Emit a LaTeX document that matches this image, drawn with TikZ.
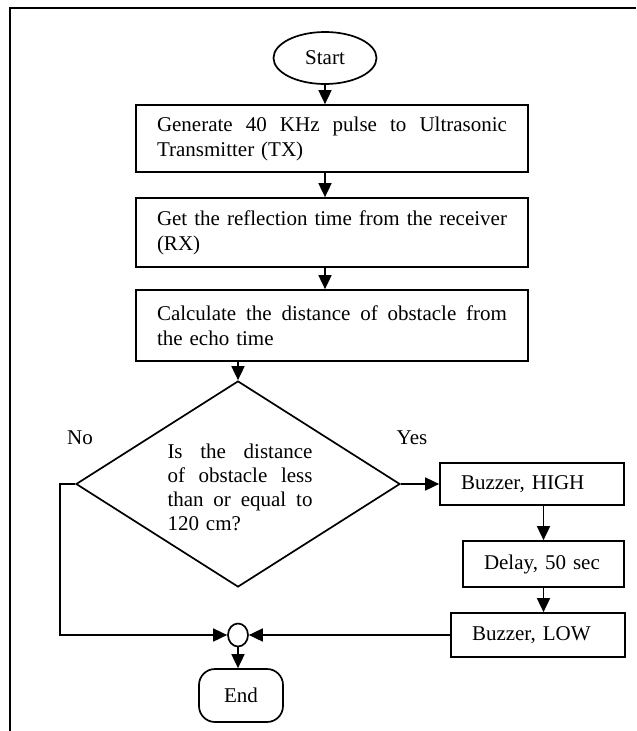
\documentclass[tikz,border=0pt]{standalone}
\usepackage{fontspec}
\setmainfont{Liberation Serif}
\usetikzlibrary{arrows.meta,shapes.geometric}
\begin{document}
\begin{tikzpicture}[x=1pt,y=-1pt,
  every node/.style={font=\fontsize{21}{25}\selectfont},
  box/.style={draw, line width=1.7pt, inner xsep=21pt, inner ysep=0pt, align=left},
  arr/.style={line width=1.7pt, -{Triangle[length=14pt,width=13pt]}},
  ln/.style={line width=1.7pt}]
\useasboundingbox (0,0) rectangle (637,731);
\draw[ln] (636,8) -- (10,8) -- (10,731);

\node[draw, ellipse, line width=1.7pt, minimum width=103pt, minimum height=52pt, inner sep=0pt] (start) at (325,58) {Start};
\node[box, text width=350pt, minimum height=67pt] (gen) at (332,138.5)
  {Generate\hfill 40\hfill KHz\hfill pulse\hfill to\hfill Ultrasonic\\Transmitter (TX)};
\node[box, text width=350pt, minimum height=69pt] (rx) at (332,232.5)
  {Get\hfill the\hfill reflection\hfill time\hfill from\hfill the\hfill receiver\\(RX)};
\node[box, text width=350pt, minimum height=71pt] (calc) at (332,325.5)
  {Calculate\hfill the\hfill distance\hfill of\hfill obstacle\hfill from\\the echo time};
\node[draw, diamond, line width=1.7pt, minimum width=324pt, minimum height=206pt, inner sep=0pt] (dia) at (238,484) {};
\node[text width=145pt, align=left, inner sep=0pt, font=\fontsize{21}{24}\selectfont] (q) at (240,487)
  {Is\hfill the\hfill distance\\of\hfill obstacle\hfill less\\than\hfill or\hfill equal\hfill to\\120 cm?};
\node (no) at (80,438) {No};
\node (yes) at (412,438) {Yes};
\node[box, text width=142pt, minimum height=42pt] (high) at (532,484) {Buzzer, HIGH};
\node[box, text width=119pt, minimum height=46pt] (delay) at (543.5,564) {Delay, 50 sec};
\node[box, text width=132pt, minimum height=44pt] (low) at (538,635) {Buzzer, LOW};
\node[draw, ellipse, line width=1.7pt, minimum width=20pt, minimum height=23pt, inner sep=0pt] (circ) at (238,635) {};
\node[draw, rectangle, rounded corners=16pt, line width=1.7pt, minimum width=84pt, minimum height=53pt] (endn) at (241,695.5) {End};

\draw[arr] (start.south) -- (start.south |- gen.north);
\draw[arr] (gen.south -| start.south) -- (rx.north -| start.south);
\draw[arr] (rx.south -| start.south) -- (calc.north -| start.south);
\draw[arr] (calc.south -| dia.north) -- (dia.north);
\draw[arr] (dia.east) -- (high.west);
\draw[arr] (high.south -| delay.north) -- (delay.north);
\draw[arr] (delay.south) -- (delay.south |- low.north);
\draw[arr] (low.west) -- (circ.east);
\draw[arr] (dia.west) -- ++(-15,0) |- (circ.west);
\draw[arr] (circ.south) -- (circ.south |- endn.north);
\end{tikzpicture}
\end{document}
